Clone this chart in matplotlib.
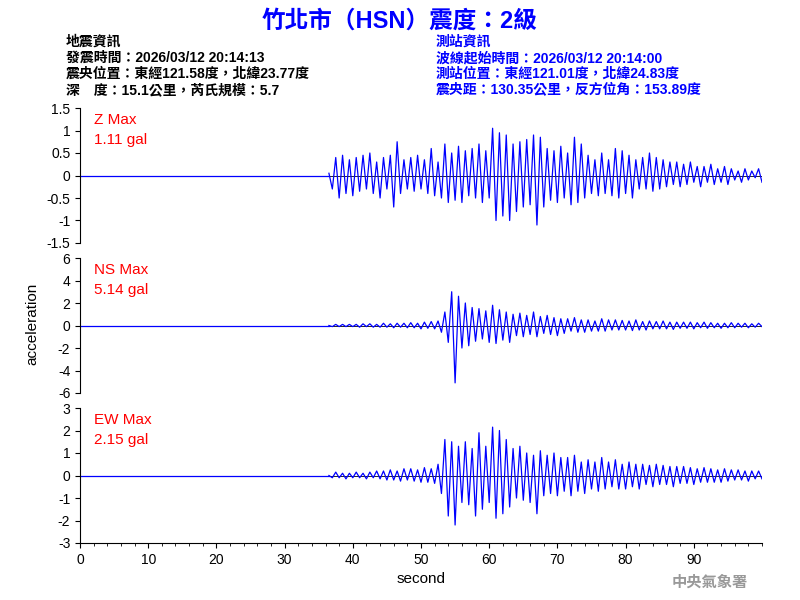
import numpy as np
import matplotlib
matplotlib.use("Agg")
import matplotlib.pyplot as plt

plt.rcParams['font.family'] = ['Liberation Sans', 'Noto Sans CJK TC', 'DejaVu Sans']

t_start = 36.5
dt = 0.5
z_vals = [0.05,-0.3,0.4,-0.5,0.45,-0.4,0.35,-0.45,
0.4,-0.35,0.45,-0.3,0.5,-0.4,0.3,-0.5,
0.4,-0.3,0.45,-0.7,0.75,-0.4,0.35,-0.3,
0.4,-0.35,0.45,-0.3,0.35,-0.4,0.6,-0.45,
0.3,-0.5,0.7,-0.6,0.5,-0.55,0.65,-0.6,
0.55,-0.45,0.6,-0.5,0.7,-0.6,0.55,-0.5,
1.05,-1.0,0.95,-0.9,0.9,-1.0,0.7,-0.8,
0.75,-0.7,0.8,-0.65,0.9,-1.1,0.85,-0.7,
0.6,-0.55,0.55,-0.6,0.65,-0.5,0.5,-0.65,
0.85,-0.6,0.7,-0.5,0.45,-0.4,0.35,-0.45,
0.5,-0.4,0.35,-0.45,0.6,-0.5,0.55,-0.4,
0.45,-0.5,0.35,-0.3,0.4,-0.3,0.5,-0.35,
0.4,-0.3,0.35,-0.25,0.3,-0.2,0.3,-0.25,
0.25,-0.2,0.3,-0.15,0.2,-0.25,0.2,-0.15,
0.25,-0.2,0.15,-0.15,0.2,-0.2,0.15,-0.1,
0.1,-0.15,0.15,-0.1,0.1,-0.05,0.15,-0.15]
ns_vals = [0,-0.1,0.1,-0.1,0.1,-0.1,0.1,-0.1,
0.1,-0.15,0.15,-0.1,0.15,-0.15,0.1,-0.15,
0.2,-0.15,0.15,-0.2,0.2,-0.15,0.2,-0.2,
0.25,-0.2,0.2,-0.3,0.3,-0.25,0.35,-0.3,
0.4,-0.6,1.2,-1.5,3.0,-5.1,2.6,-2.0,
2.0,-1.8,1.6,-1.4,1.5,-1.2,1.3,-1.5,
1.8,-1.6,1.4,-1.3,1.2,-1.5,1.0,-0.9,
1.1,-1.0,0.9,-0.8,1.2,-1.0,0.8,-0.7,
0.9,-0.8,0.7,-0.9,0.6,-0.7,0.6,-0.5,
0.7,-0.6,0.5,-0.6,0.5,-0.5,0.4,-0.5,
0.6,-0.5,0.5,-0.4,0.5,-0.4,0.45,-0.4,
0.4,-0.45,0.5,-0.4,0.35,-0.4,0.4,-0.3,
0.35,-0.3,0.4,-0.3,0.3,-0.35,0.3,-0.25,
0.3,-0.25,0.3,-0.3,0.25,-0.2,0.3,-0.25,
0.25,-0.2,0.2,-0.25,0.2,-0.2,0.25,-0.2,
0.2,-0.15,0.2,-0.2,0.15,-0.15,0.2,-0.1]
ew_vals = [0,-0.1,0.15,-0.1,0.1,-0.15,0.1,-0.1,
0.15,-0.1,0.1,-0.15,0.15,-0.1,0.2,-0.15,
0.2,-0.2,0.25,-0.2,0.2,-0.25,0.3,-0.2,
0.3,-0.25,0.25,-0.3,0.35,-0.3,0.3,-0.35,
0.5,-0.8,1.6,-1.8,1.5,-2.2,1.3,-1.2,
1.5,-1.3,1.2,-1.8,1.9,-1.5,1.3,-1.2,
2.15,-1.9,2.0,-1.7,1.6,-1.4,1.2,-1.0,
1.3,-1.1,1.0,-1.2,0.9,-1.7,1.1,-0.9,
0.9,-0.8,1.0,-0.9,0.8,-0.7,0.8,-0.9,
0.9,-0.7,0.6,-0.8,0.7,-0.6,0.6,-0.7,
0.8,-0.6,0.6,-0.5,0.7,-0.6,0.5,-0.6,
0.6,-0.5,0.5,-0.6,0.5,-0.4,0.45,-0.5,
0.5,-0.4,0.45,-0.4,0.4,-0.5,0.4,-0.35,
0.4,-0.35,0.35,-0.4,0.3,-0.3,0.35,-0.3,
0.3,-0.3,0.25,-0.3,0.3,-0.25,0.25,-0.2,
0.25,-0.2,0.2,-0.25,0.2,-0.15,0.2,-0.15]

labels = ["Z Max\n1.11 gal", "NS Max\n5.14 gal", "EW Max\n2.15 gal"]
ylims = [(-1.5, 1.5), (-6, 6), (-3, 3)]
yticks = [[-1.5,-1,-0.5,0,0.5,1,1.5], [-6,-4,-2,0,2,4,6], [-3,-2,-1,0,1,2,3]]
yticklabels = [["-1.5","-1","-0.5","0","0.5","1","1.5"],
               ["-6","-4","-2","0","2","4","6"],
               ["-3","-2","-1","0","1","2","3"]]
series = [z_vals, ns_vals, ew_vals]

fig = plt.figure(figsize=(8, 6), dpi=100)
rects = [(0.1, 0.595, 0.8525, 0.225), (0.1, 0.345, 0.8525, 0.225), (0.1, 0.095, 0.8525, 0.225)]
for i, (r, vals) in enumerate(zip(rects, series)):
    ax = fig.add_axes(r)
    t = t_start + dt * np.arange(len(vals))
    ax.axhline(0, color='black', lw=0.6, zorder=0)
    ax.plot([0, t_start], [0, 0], color='blue', lw=0.9)
    ax.plot(t, vals, color='blue', lw=0.9)
    ax.set_xlim(0, 100)
    ax.set_ylim(*ylims[i])
    ax.set_yticks(yticks[i])
    ax.set_yticklabels(yticklabels[i], fontsize=10)
    for s in ['top', 'right']:
        ax.spines[s].set_visible(False)
    ax.text(0.02, 0.96, labels[i], transform=ax.transAxes, color='red',
            fontsize=11, va='top', linespacing=1.5)
    if i < 2:
        ax.spines['bottom'].set_visible(False)
        ax.set_xticks([])
    else:
        ax.set_xticks([0,10,20,30,40,50,60,70,80,90])
        ax.set_xticks(np.arange(0, 101, 2), minor=True)
        ax.tick_params(axis='x', labelsize=10)
        ax.set_xlabel("second", fontsize=11)

fig.text(0.04, 0.46, "acceleration", rotation=90, fontsize=11, ha='center', va='center')
fig.text(0.5, 0.965, "竹北市（HSN）震度：2級", color='blue', fontsize=17,
         fontweight='bold', ha='center', va='center')
left = "地震資訊\n發震時間：2026/03/12 20:14:13\n震央位置：東經121.58度，北緯23.77度\n深　度：15.1公里，芮氏規模：5.7"
right = "測站資訊\n波線起始時間：2026/03/12 20:14:00\n測站位置：東經121.01度，北緯24.83度\n震央距：130.35公里，反方位角：153.89度"
fig.text(0.082, 0.942, left, fontsize=10, va='top', linespacing=1.2, fontweight='bold')
fig.text(0.545, 0.942, right, fontsize=10, va='top', color='blue', linespacing=1.2, fontweight='bold')
fig.text(0.935, 0.03, "中央氣象署", color='#999999', fontsize=11, ha='right', va='center',
         fontweight='bold')
fig.savefig("out.png", dpi=100)
